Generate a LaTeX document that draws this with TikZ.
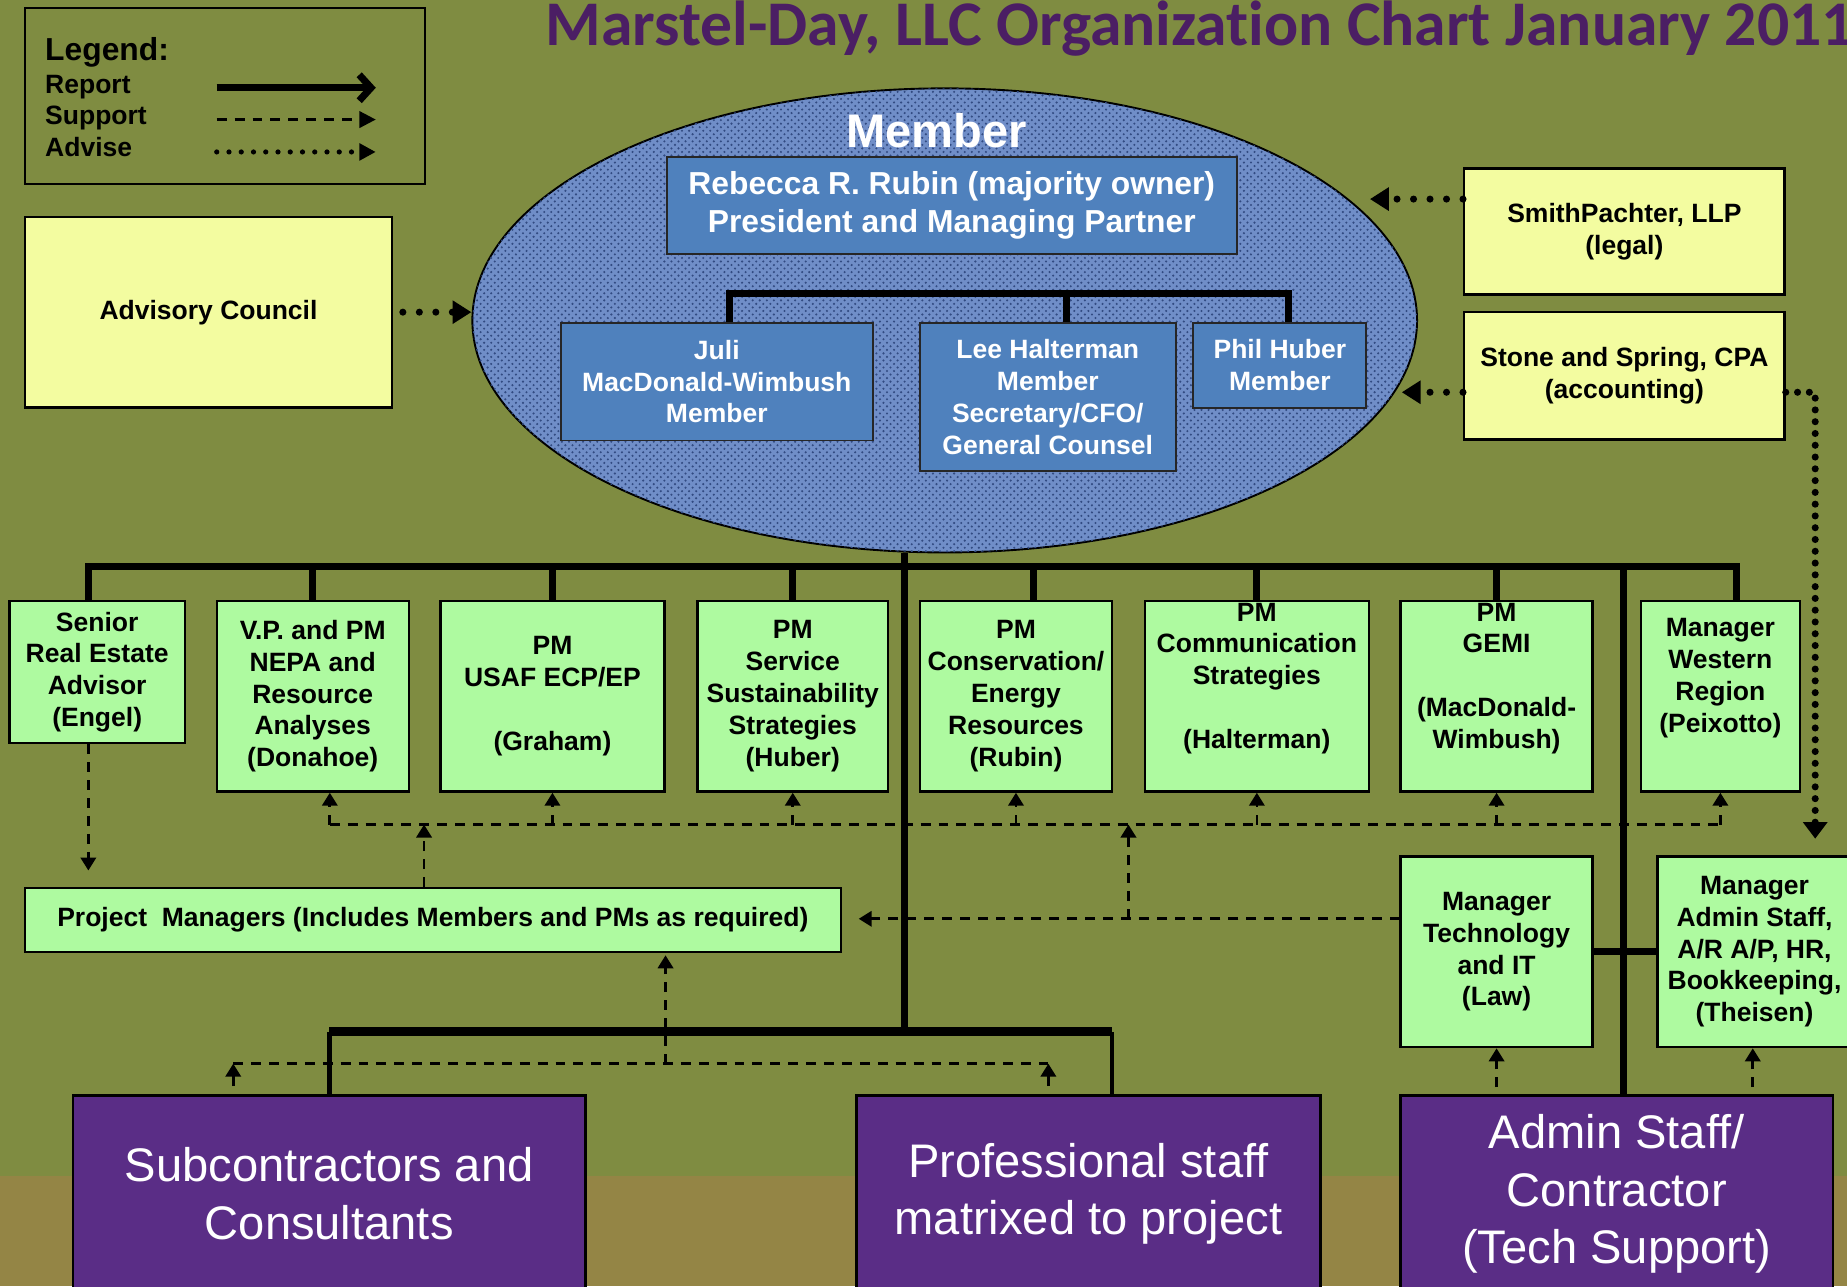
\documentclass[tikz,border=0pt]{standalone}
\usepackage{fontspec}
\setmainfont{Liberation Sans}
\newfontfamily\titlefont[Ligatures=NoCommon]{Carlito}
\usetikzlibrary{arrows.meta,fit,patterns,shapes.geometric}
\definecolor{bgolive}{RGB}{127,140,65}
\definecolor{bgband}{RGB}{148,133,69}
\definecolor{gfill}{RGB}{174,250,160}
\definecolor{yfill}{RGB}{243,252,160}
\definecolor{bfill}{RGB}{79,129,189}
\definecolor{pfill}{RGB}{90,45,134}
\definecolor{titlecol}{RGB}{75,30,100}
\definecolor{ellcol}{RGB}{112,142,200}
\definecolor{elldark}{RGB}{50,75,130}
\newcommand{\gfont}{\fontsize{11.25}{13.5}\selectfont\bfseries}
\newcommand{\rfont}{\fontsize{13.5}{16}\selectfont\bfseries}
\newcommand{\pfont}{\fontsize{20}{24.5}\selectfont}
\begin{document}
\begin{tikzpicture}[x=0.5pt,y=-0.5pt,
  report/.style={line width=3pt},
  support/.style={line width=1.15pt, dash pattern=on 4.2pt off 3.4pt},
  sarrow/.style={support, -{Triangle[length=5.5pt,width=6.5pt]}},
  advise/.style={line width=3pt, line cap=round, dash pattern=on 0pt off 7pt},
  aarrow/.style={advise, -{Triangle[length=8pt,width=9.5pt]}},
  sz/.style 2 args={minimum width=#1pt, minimum height=#2pt},
  gbox/.style={draw=black, line width=1pt, fill=gfill, inner sep=0pt, align=center, font=\gfont},
  ybox/.style={draw=black, line width=1pt, fill=yfill, inner sep=0pt, align=center, font=\gfont},
  bbox/.style={draw=black!85, line width=0.8pt, fill=bfill, inner sep=0pt, align=center, text=white, font=\gfont},
  pbox/.style={draw=black, line width=1pt, fill=pfill, inner sep=0pt, align=center, text=white, font=\pfont},
  legtext/.style={anchor=base west, inner sep=0pt, font=\gfont}
]
\useasboundingbox (0,0) rectangle (1568,1092);
\fill[bgolive] (0,0) rectangle (1568,1092);
\fill[bgband] (0,998) rectangle (1568,1092);

% title
\node[anchor=base west, inner sep=0pt, text=titlecol, font=\titlefont\bfseries\fontsize{27}{30}\selectfont] (title) at (463,39) {Marstel-Day, LLC Organization Chart January 2011};

% legend
\node[draw=black, line width=1pt, inner sep=0pt, fit={(21,7) (361,156)}] (legend) {};
\node[legtext, font=\rfont] (lgh) at (38,51) {Legend:};
\node[legtext] (lgr) at (38,79) {Report};
\node[legtext] (lgs) at (38,106) {Support};
\node[legtext] (lga) at (38,132.5) {Advise};
\coordinate (lr1) at (184,74.5); \coordinate (lr2) at (319,74.5);
\coordinate (ls1) at (184,101.5); \coordinate (ls2) at (319,101.5);
\coordinate (la1) at (184,129); \coordinate (la2) at (319,129);
\draw[report, -{Straight Barb[length=5pt,width=11pt,line width=3pt]}] (lr1) -- (lr2);
\draw[support, -{Triangle[length=7pt,width=7pt]}] (ls1) -- (ls2);
\draw[line width=2.2pt, line cap=round, dash pattern=on 0pt off 5.2pt, -{Triangle[length=7pt,width=7pt]}] (la1) -- (la2);

% advisory and outside advisors
\node[ybox, sz={156}{81}] (adv) at (177,265) {Advisory Council};
\node[ybox, sz={136}{53.5}] (smith) at (1379,196.5) {SmithPachter, LLP\\(legal)};
\node[ybox, sz={136}{54}] (stone) at (1379,319) {Stone and Spring, CPA\\(accounting)};

% member ellipse
\node[ellipse, draw=black, line width=0.8pt, fill=ellcol, minimum width=401pt, minimum height=197pt, inner sep=0pt,
      postaction={pattern=crosshatch dots, pattern color=elldark}] (ell) at (802,272) {};
\node[anchor=base, inner sep=0pt, text=white, font=\fontsize{20}{24}\selectfont\bfseries] (mlabel) at (795,125) {Member};
\node[bbox, font=\rfont, sz={242}{41.5}] (rubin) at (808,174.5) {Rebecca R. Rubin (majority owner)\\President and Managing Partner};
\node[bbox, sz={132.5}{50}] (juli) at (608.5,324) {Juli\\MacDonald-Wimbush\\Member};
\node[bbox, sz={108.5}{63}] (lee) at (889.5,337) {Lee Halterman\\Member\\Secretary/CFO/\\General Counsel};
\node[bbox, sz={73.5}{36}] (phil) at (1086.5,310) {Phil Huber\\Member};
\draw[report] ([xshift=5.25pt]juli.north) -- ++(0,-24) -| ([xshift=3.75pt]phil.north);
\draw[report] ([xshift=7.75pt]lee.north) -- ++(0,-24);

% row of project managers
\node[gbox, sz={74.5}{60.5}] (b1) at (82.5,570.5) {Senior\\Real Estate\\Advisor\\(Engel)};
\node[gbox, sz={81.5}{81}] (b2) at (265.5,591) {V.P. and PM\\NEPA and\\Resource\\Analyses\\(Donahoe)};
\node[gbox, sz={95}{81}] (b3) at (469,591) {PM\\USAF ECP/EP\\\strut\\(Graham)};
\node[gbox, sz={81}{81}] (b4) at (673,591) {PM\\Service\\Sustainability\\Strategies\\(Huber)};
\node[gbox, sz={81.5}{81}] (b5) at (862.5,591) {PM\\Conservation/\\Energy\\Resources\\(Rubin)};
\node[gbox, sz={95}{81}] (b6) at (1067,591) {PM\\Communication\\Strategies\\\strut\\(Halterman)\\\strut};
\node[gbox, sz={81.5}{81}] (b7) at (1270.5,591) {PM\\GEMI\\\strut\\(MacDonald-\\Wimbush)\\\strut};
\node[gbox, sz={67.5}{81}] (b8) at (1460.5,591) {Manager\\Western\\Region\\(Peixotto)\\\strut};

\node[gbox, sz={346.5}{27}] (pm) at (367.5,781) {Project\ \ Managers (Includes Members and PMs as required)};
\node[gbox, sz={81.5}{81}] (tech) at (1270.5,808) {Manager\\Technology\\and IT\\(Law)};
\node[gbox, sz={82.5}{81}] (admgr) at (1489.5,808) {Manager\\Admin Staff,\\A/R A/P, HR,\\Bookkeeping,\\(Theisen)};

% bottom purple boxes
\node[pbox, sz={217.5}{83.5}] (sub) at (279.5,1013.5) {Subcontractors and\\Consultants};
\node[pbox, sz={197}{83.5}] (prof) at (924,1013.5) {Professional staff\\matrixed to project};
\node[pbox, sz={183.5}{83.5}] (adminp) at (1372.5,1013.5) {Admin Staff/\\Contractor\\(Tech Support)};

% report lines
\draw[report] ([xshift=-3.75pt]b1.north) -- ++(0,-28) -| ([xshift=6.75pt]b8.north);
\foreach \n/\s in {b2/0pt,b3/0pt,b4/0pt,b5/7.25pt,b6/0pt,b7/0pt}
  \draw[report] ([xshift=\s]\n.north) -- ++(0,-28);
\coordinate (bb) at (768,876);
\draw[report] ([xshift=-17pt]ell.south) -- (bb);
\draw[line width=3.8pt] (sub.north |- bb) -- ([xshift=10pt]prof.north |- bb);
\draw[line width=2pt] (sub.north) -- (sub.north |- bb);
\draw[line width=2pt] ([xshift=10pt]prof.north) -- ([xshift=10pt]prof.north |- bb);
\draw[report] ([xshift=2.75pt]adminp.north) -- ++(0,-448);
\draw[report] (tech.east) -- (admgr.west);

% support lines
\coordinate (sline) at (0,700);
\draw[support] ([xshift=7.25pt]b2.south |- sline) -- (b8.south |- sline);
\foreach \n/\s in {b2/7.25pt,b3/0pt,b4/0pt,b5/0pt,b6/0pt,b7/0pt,b8/0pt}
  \draw[sarrow] ([xshift=\s]\n.south |- sline) -- ([xshift=\s]\n.south);
\draw[sarrow] ([xshift=-3.75pt]pm.north) -- ([xshift=-3.75pt]pm.north |- sline);
\draw[sarrow, shorten >=7pt] ([yshift=14pt]tech.west) -- ([yshift=14pt]tech.west -| pm.east);
\coordinate (tj) at (958,780);
\draw[sarrow] (tj) -- (tj |- sline);
\draw[sarrow, shorten >=7pt] ([xshift=-3.75pt]b1.south) -- ([xshift=-3.75pt]b1.south |- pm.north);
\coordinate (sl2) at (0,903);
\draw[support] ([xshift=-40.75pt]sub.north |- sl2) -- ([xshift=-17pt]prof.north |- sl2);
\draw[sarrow, shorten <=3.5pt] ([xshift=-40.75pt]sub.north) -- ([xshift=-40.75pt]sub.north |- sl2);
\draw[sarrow, shorten <=3.5pt] ([xshift=-17pt]prof.north) -- ([xshift=-17pt]prof.north |- sl2);
\draw[sarrow, shorten >=1pt] ([xshift=98.75pt]pm.south |- sl2) -- ([xshift=98.75pt]pm.south);
\draw[sarrow, shorten <=3pt] (tech.south |- adminp.north) -- (tech.south);
\draw[sarrow, shorten <=3pt] ([xshift=-0.75pt]admgr.south |- adminp.north) -- ([xshift=-0.75pt]admgr.south);

% advise lines
\draw[aarrow, shorten <=4pt] (adv.east) -- (adv.east -| ell.west);
\coordinate (smtip) at (1163,169);
\coordinate (sttip) at (1190,333);
\coordinate (sdown) at (1541,712);
\draw[aarrow] ([yshift=13.75pt]smith.west) -- (smtip);
\draw[aarrow] ([yshift=-7pt]stone.west) -- (sttip);
\draw[advise, dash pattern=on 0pt off 5pt, -{Triangle[length=7pt,width=10pt]}] ([yshift=-7pt]stone.east) -| (sdown);
\end{tikzpicture}
\end{document}
